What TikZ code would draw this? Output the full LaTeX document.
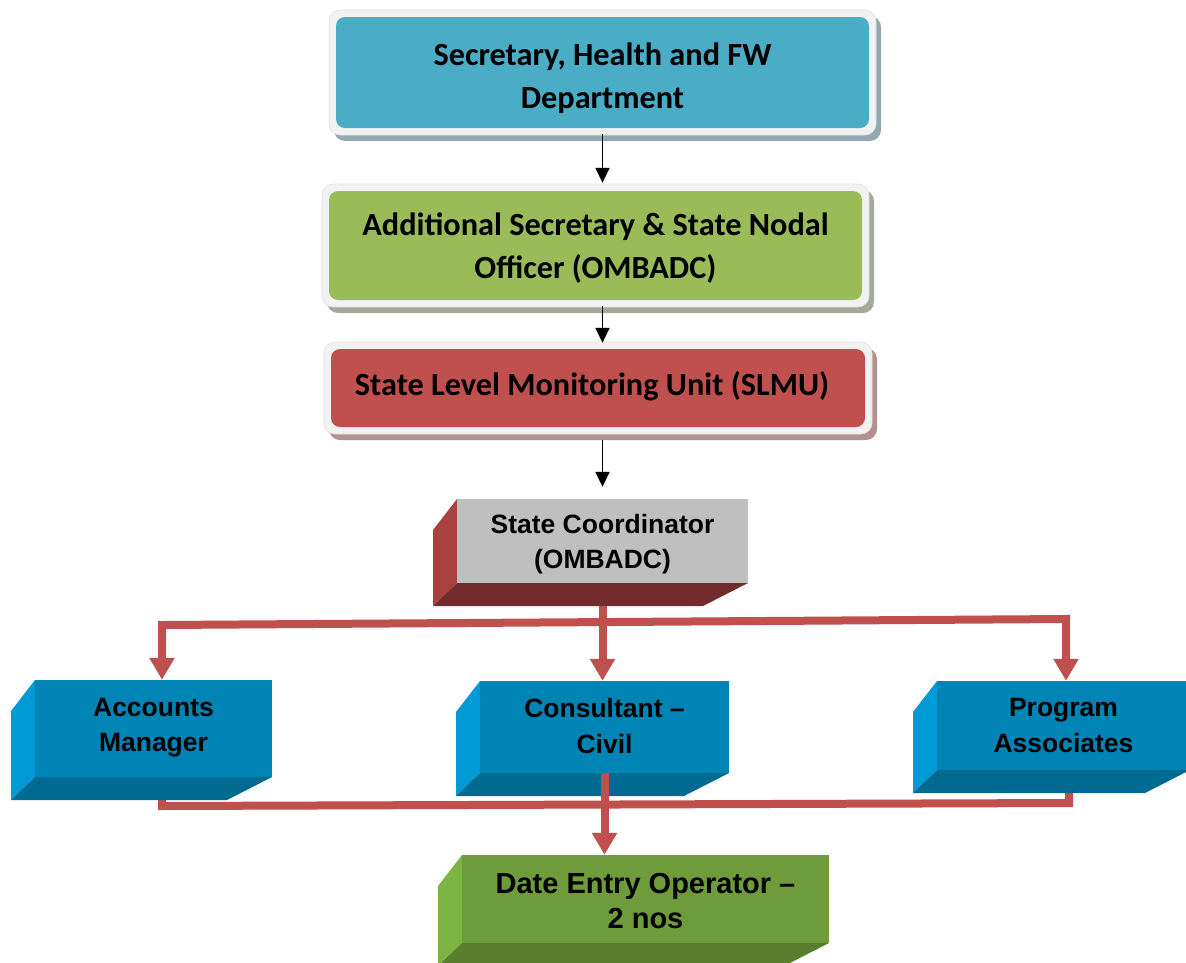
\documentclass[tikz,border=0pt]{standalone}
\usepackage{fontspec}
\setmainfont{Liberation Sans}
\newfontfamily\calfont{Carlito}
\usetikzlibrary{arrows.meta,calc}
\pgfdeclarelayer{bg}
\pgfsetlayers{bg,main}
\definecolor{topblue}{HTML}{4BACC6}
\definecolor{topgreen}{HTML}{9BBB59}
\definecolor{topred}{HTML}{C0504D}
\definecolor{framefill}{HTML}{F2F2F2}
\definecolor{frameedge}{HTML}{E0E0E0}
\definecolor{shblue}{HTML}{93A9B2}
\definecolor{shgreen}{HTML}{A4AA98}
\definecolor{shred}{HTML}{B39190}
\definecolor{lnred}{HTML}{C0504D}
\definecolor{cubeblueF}{HTML}{0084B5}
\definecolor{cubeblueL}{HTML}{009AD6}
\definecolor{cubeblueB}{HTML}{006A90}
\definecolor{cubegrayF}{HTML}{BFBFBF}
\definecolor{cubegrayL}{HTML}{A8423F}
\definecolor{cubegrayB}{HTML}{722C2C}
\definecolor{cubegreenF}{HTML}{6F9C3B}
\definecolor{cubegreenL}{HTML}{7DB544}
\definecolor{cubegreenB}{HTML}{587E2E}
\tikzset{
  topnode/.style={rounded corners=9pt, inner sep=0pt},
  toptext/.style={inner sep=0pt, align=center, text=black,
    font=\calfont\bfseries\fontsize{32.3}{43}\selectfont},
  cubenode/.style={inner sep=0pt},
  cubetext/.style={inner sep=0pt, align=center, text=black},
  blkarrow/.style={draw=black, line width=1.7pt, -{Triangle[width=14pt,length=15pt]}},
  redconn/.style={draw=lnred, line width=8pt},
  redtip/.style={-{Triangle[width=24pt,length=22pt]}},
  redtips/.style={{Triangle[width=24pt,length=22pt]}-{Triangle[width=24pt,length=22pt]}}
}
% name, x1, y1, x2, y2, fill, shadow, text, text y-offset
\newcommand\topbox[9]{%
  \fill[#7, rounded corners=11pt] ({#2-7+5},{#3-7+6}) rectangle ({#4+7+5},{#5+7+6});
  \filldraw[fill=framefill, draw=frameedge, line width=0.6pt, rounded corners=11pt] ({#2-7},{#3-7}) rectangle ({#4+7},{#5+7});
  \node[topnode, fill=#6, minimum width=#4-#2, minimum height=#5-#3] (#1) at ({(#2+#4)/2},{(#3+#5)/2}) {};
  \node[toptext] at ($(#1.center)+(0,#9)$) {#8};
}
% name, x1, y1, x2, y2, colour prefix, font size, text, text y-offset
\newcommand\cubebox[9]{%
  \fill[#6L] (#2,#3) -- ({#2-24},{#3+31}) -- ({#2-24},{#5+23}) -- (#2,#5) -- cycle;
  \fill[#6B] (#2,#5) -- (#4,#5) -- ({#4-45},{#5+23}) -- ({#2-24},{#5+23}) -- cycle;
  \node[cubenode, fill=#6F, minimum width=#4-#2, minimum height=#5-#3] (#1) at ({(#2+#4)/2},{(#3+#5)/2}) {};
  \node[cubetext, font=\bfseries\fontsize{#7}{35.5}\selectfont] at ($(#1.center)+(0,#9)$) {#8};
}
\begin{document}
\begin{tikzpicture}[x=1pt,y=-1pt]
\useasboundingbox (0,0) rectangle (1186,962);
% top boxes
\topbox{b1}{336}{17}{869}{128}{topblue}{shblue}{Secretary, Health and FW\\Department}{6}
\topbox{b2}{329}{191}{862}{300}{topgreen}{shgreen}{Additional Secretary \& State Nodal\\Officer (OMBADC)}{3}
\topbox{b3}{331}{349}{865}{427}{topred}{shred}{State Level Monitoring Unit (SLMU)\hspace*{12pt}}{-2}
% cubes
\cubebox{sc}{457}{499}{748}{583}{cubegray}{26.5}{State Coordinator\\(OMBADC)}{3}
\cubebox{acc}{35}{680}{272}{777}{cubeblue}{26.5}{Accounts\\Manager}{-1}
\cubebox{con}{480}{681}{729}{773}{cubeblue}{26.5}{Consultant --\\Civil}{-1}
\cubebox{pa}{937}{681}{1190}{770}{cubeblue}{26.5}{Program\\Associates}{0}
\cubebox{deo}{462}{855}{829}{943}{cubegreen}{29}{Date Entry Operator --\\2 nos}{2}
% black arrows
\draw[blkarrow, shorten <=6pt, shorten >=8pt] (b1.south -| sc.north) -- (b2.north -| sc.north);
\draw[blkarrow, shorten <=6pt, shorten >=6pt] (b2.south -| sc.north) -- (b3.north -| sc.north);
\draw[blkarrow, shorten <=13pt, shorten >=12pt] (b3.south -| sc.north) -- (sc.north);
% red connectors
\coordinate (jl) at (162,625);
\coordinate (jr) at (1066,619);
\coordinate (kl) at (162,806);
\coordinate (kr) at (1069,803);
\begin{pgfonlayer}{bg}
\draw[redconn, redtips] (jl |- acc.north) -- (jl) -- (jr) -- (jr |- pa.north);
\draw[redconn, redtip] (sc.south) -- (sc.south |- con.north);
\draw[redconn] (kl |- acc.south) -- (kl) -- (kr) -- (kr |- pa.south);
\end{pgfonlayer}
\draw[redconn, redtip] (con.south) -- (con.south |- deo.north);
\end{tikzpicture}
\end{document}
